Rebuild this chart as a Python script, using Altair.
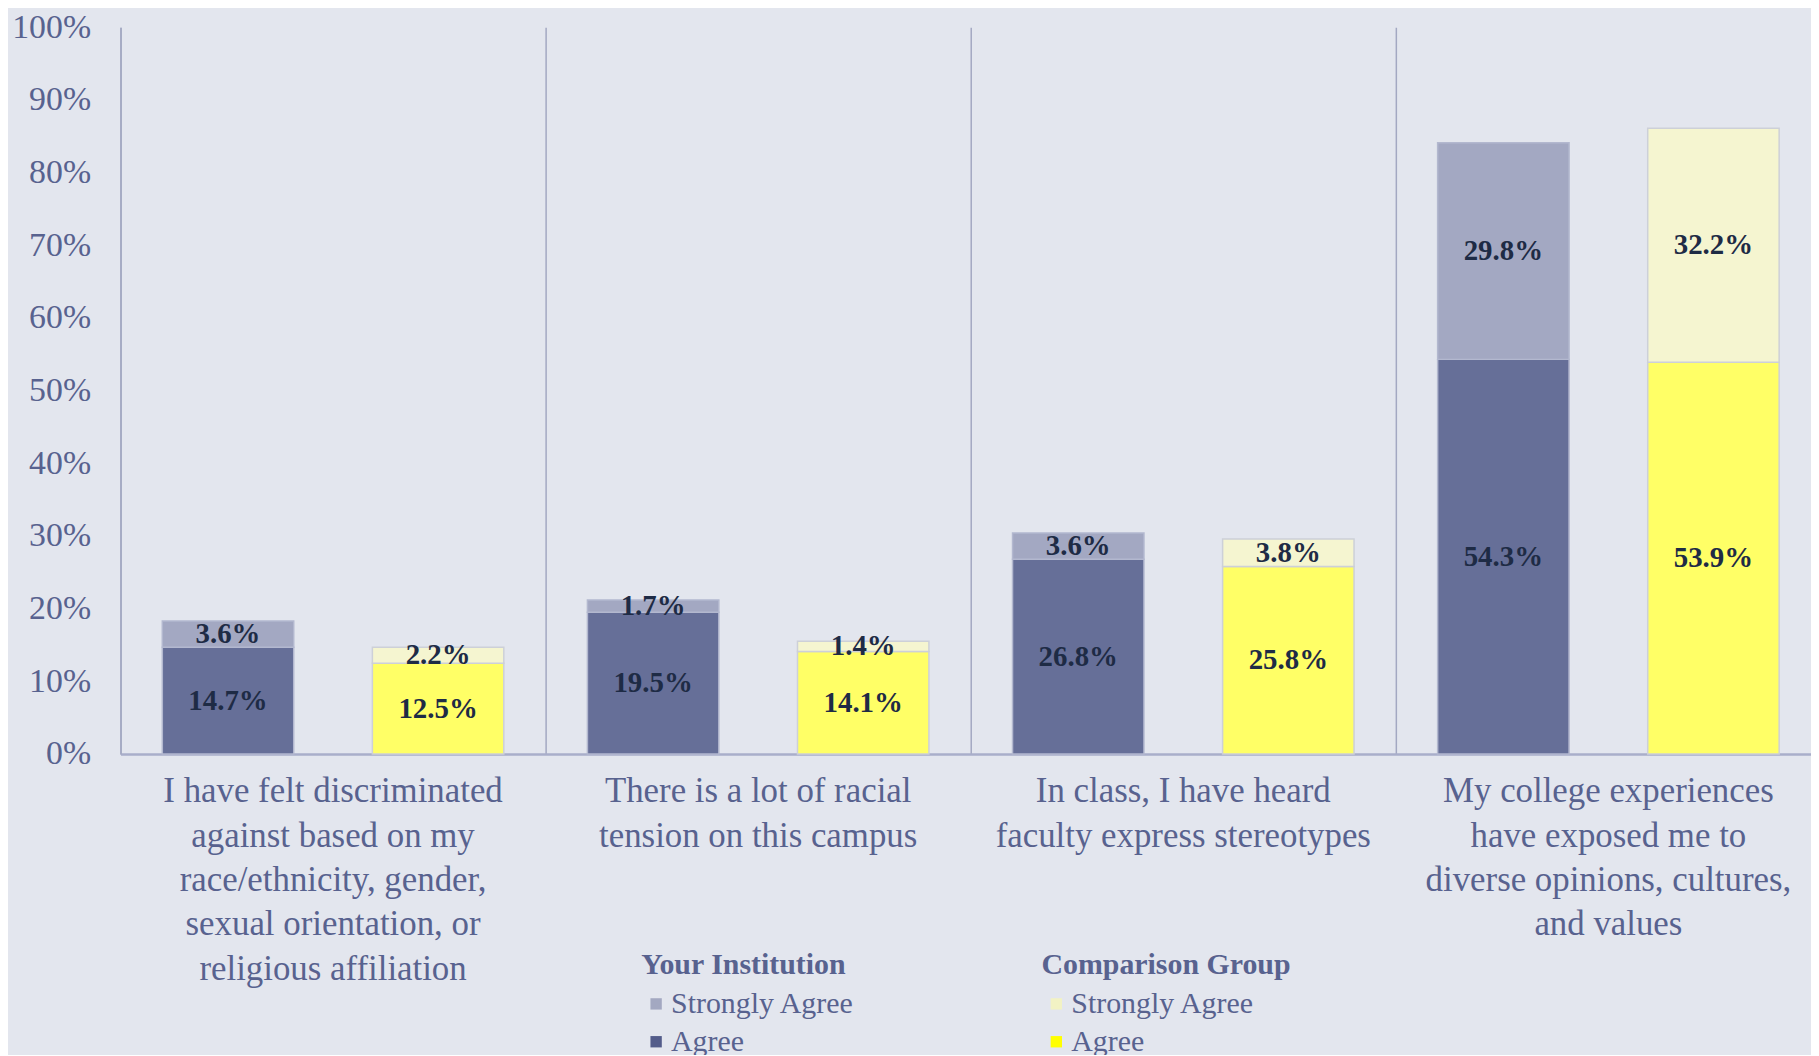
import altair as alt
import pandas as pd

categories = [
    "I have felt discriminated|against based on my|race/ethnicity, gender,|sexual orientation, or|religious affiliation",
    "There is a lot of  racial|tension on this campus",
    "In class, I have heard|faculty express stereotypes",
    "My college experiences|have exposed me to|diverse opinions, cultures,|and values",
]
groups = ["Your Institution", "Comparison Group"]
levels = ["Agree", "Strongly Agree"]

your_agree = [14.7, 19.5, 26.8, 54.3]
your_strongly = [3.6, 1.7, 3.6, 29.8]
comp_agree = [12.5, 14.1, 25.8, 53.9]
comp_strongly = [2.2, 1.4, 3.8, 32.2]

rows = []
for i, c in enumerate(categories):
    for g, ag, sa in [("Your Institution", your_agree, your_strongly),
                      ("Comparison Group", comp_agree, comp_strongly)]:
        rows.append({"cat": c, "group": g, "level": "Agree", "rank": 0, "value": ag[i], "label": f"{ag[i]:.1f}%"})
        rows.append({"cat": c, "group": g, "level": "Strongly Agree", "rank": 1, "value": sa[i], "label": f"{sa[i]:.1f}%"})
df = pd.DataFrame(rows)

FONT = "Liberation Serif"
AXIS_COLOR = "#58628F"
LINE_COLOR = "#A3A8C2"
TEXT_DARK = "#1E2B45"
LEVEL_ORDER = ["Strongly Agree", "Agree"]

base = alt.Chart(df).transform_stack(
    stack="value", as_=["y0", "y1"], groupby=["cat", "group"],
    sort=[alt.SortField("rank", order="ascending")]
).transform_calculate(mid="(datum.y0 + datum.y1) / 2")

x_enc = alt.X(
    "cat:N", sort=categories, title=None,
    scale=alt.Scale(paddingInner=0, paddingOuter=0),
    axis=alt.Axis(
        labelExpr="split(datum.label, '|')", labelAngle=0, labelFont=FONT,
        labelFontSize=35, labelColor=AXIS_COLOR, labelLineHeight=44.5,
        labelPadding=20, labelLimit=1000, ticks=False, grid=True,
        gridColor=LINE_COLOR, gridWidth=1.5, bandPosition=0,
        domainColor="#A9AECA", domainWidth=2.5, labelBaseline="top",
    ),
)
xo_enc = alt.XOffset(
    "group:N",
    scale=alt.Scale(domain=groups, paddingInner=0.3744, paddingOuter=0.199),
)
y_enc = alt.Y(
    "y0:Q", title=None,
    scale=alt.Scale(domain=[0, 100], nice=False),
    axis=alt.Axis(
        values=list(range(0, 101, 10)), labelExpr="datum.value + '%'",
        labelFont=FONT, labelFontSize=34, labelColor=AXIS_COLOR,
        labelPadding=30, ticks=False, grid=False,
        domainColor=LINE_COLOR, domainWidth=1.5,
    ),
)


def legend(title, x):
    return alt.Legend(
        title=title, orient="none", legendX=x, legendY=927,
        titleFont=FONT, titleFontSize=30, titleFontWeight="bold",
        titleColor=AXIS_COLOR, titlePadding=9, titleLimit=1000,
        labelFont=FONT, labelFontSize=30, labelColor=AXIS_COLOR,
        labelOffset=0, labelLimit=1000,
        symbolType="square", symbolSize=130, symbolStrokeWidth=0,
        symbolOpacity=1, rowPadding=8, padding=0,
    )


def bars(group, stroke, colors):
    return base.transform_filter(alt.datum.group == group).mark_bar(
        stroke=stroke, strokeWidth=1.5, opacity=1
    ).encode(
        x=x_enc, xOffset=xo_enc, y=y_enc, y2="y1:Q",
        color=alt.Color("level:N", scale=alt.Scale(domain=LEVEL_ORDER, range=colors), legend=None),
    )


def legend_layer(group, x, colors):
    return base.transform_filter(alt.datum.group == group).mark_square(
        size=0, opacity=0
    ).encode(
        x=x_enc, xOffset=xo_enc, y=y_enc,
        color=alt.Color("level:N", scale=alt.Scale(domain=LEVEL_ORDER, range=colors),
                        legend=legend(group, x)),
    )


bars_your = bars("Your Institution", "#B3B8CF", ["#A3A8C2", "#666F98"])
bars_comp = bars("Comparison Group", "#CDD0D8", ["#F5F5D0", "#FFFF66"])
leg_your = legend_layer("Your Institution", 523, ["#A3A8C1", "#535C8A"])
leg_comp = legend_layer("Comparison Group", 925, ["#F2F2C4", "#FFFF00"])

labels = base.mark_text(
    font=FONT, fontSize=29, fontWeight="bold", color=TEXT_DARK, baseline="middle"
).encode(
    x=alt.X("cat:N", sort=categories),
    xOffset=xo_enc,
    y=alt.Y("mid:Q"),
    text="label:N",
)

chart = alt.layer(bars_your, bars_comp, leg_your, leg_comp, labels).resolve_scale(
    color="independent"
).properties(
    width=1708, height=730,
    background="#E3E6EE",
    padding={"left": 113, "top": 17, "right": -10, "bottom": 300},
    autosize=alt.AutoSizeParams(type="none"),
).configure_view(stroke=None)

chart.save("out.html", embed_options={"renderer": "svg", "actions": False})
